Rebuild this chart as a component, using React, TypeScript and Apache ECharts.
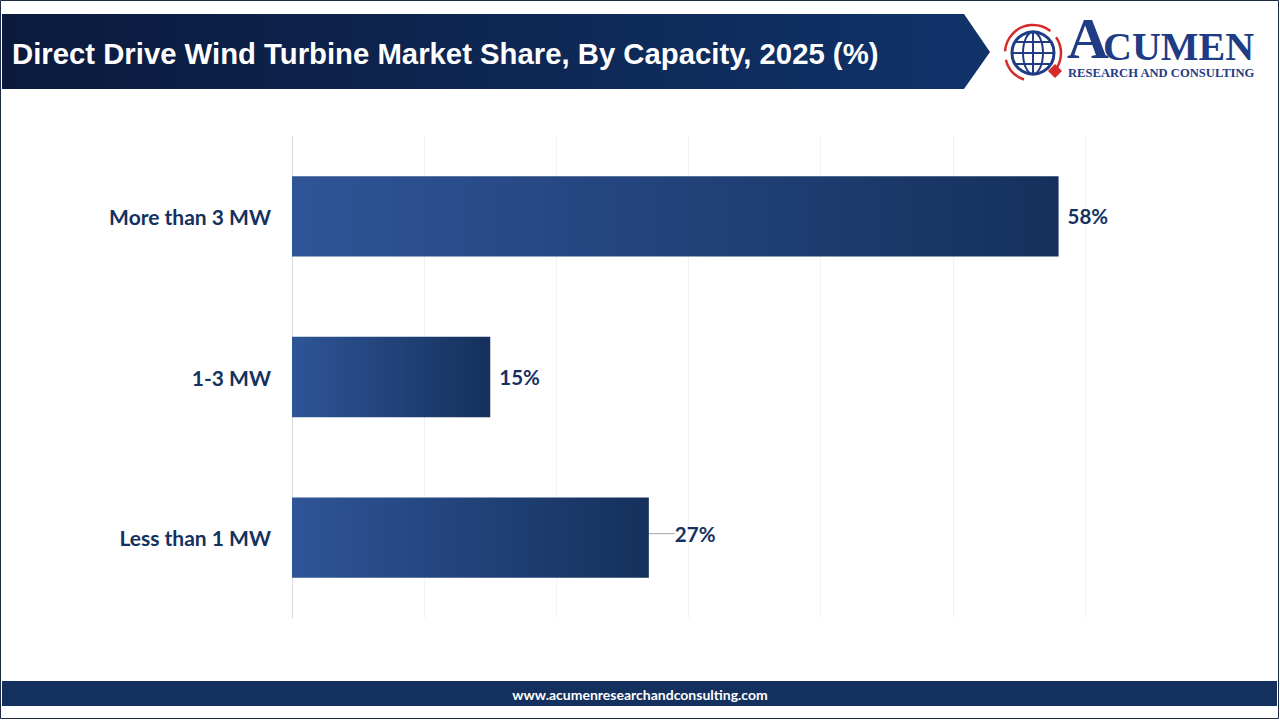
import React, { useEffect, useRef } from "react";
import * as echarts from "echarts";

const categories = ["Less than 1 MW", "1-3 MW", "More than 3 MW"];
const shares = [27, 15, 58];
const axisMax = 60;
const axisInterval = 10;

const titleText = "Direct Drive Wind Turbine Market Share, By Capacity, 2025 (%)";
const footerText = "www.acumenresearchandconsulting.com";

export default function App() {
  const ref = useRef<HTMLDivElement>(null);
  useEffect(() => {
    if (!ref.current) return;
    const chart = echarts.init(ref.current, null, { renderer: "svg" });
    const navy = "#14315f";
    const logoBlue = "#1f3c85";
    const red = "#d42a2a";
    const cx = 1033;
    const cy = 53;
    chart.setOption({
      animation: false,
      backgroundColor: "#ffffff",
      grid: { left: 292, right: 195, top: 136, bottom: 102, containLabel: false },
      xAxis: {
        type: "value",
        min: 0,
        max: axisMax,
        interval: axisInterval,
        axisLabel: { show: false },
        axisLine: { show: false },
        axisTick: { show: false },
        splitLine: { show: true, lineStyle: { color: "#f2f2f2", width: 1 } },
      },
      yAxis: {
        type: "category",
        data: categories,
        axisLine: { show: true, lineStyle: { color: "#d9d9d9", width: 1 } },
        axisTick: { show: false },
        axisLabel: {
          color: navy,
          fontFamily: "Lato",
          fontWeight: "bold",
          fontSize: 21,
          margin: 21,
        },
      },
      series: [
        {
          type: "bar",
          data: shares.map((v, i) =>
            i === 0
              ? { value: v, labelLine: { show: true, length2: 0, lineStyle: { color: "#a6a6a6", width: 1 } } }
              : { value: v, labelLine: { show: false } }
          ),
          barWidth: "50%",
          itemStyle: {
            color: new echarts.graphic.LinearGradient(0, 0, 1, 0, [
              { offset: 0, color: "#2f5597" },
              { offset: 1, color: "#15305c" },
            ]),
          },
          label: {
            show: true,
            position: "right",
            distance: 9,
            formatter: "{c}%",
            color: navy,
            fontFamily: "Lato",
            fontWeight: "bold",
            fontSize: 20.5,
          },
          labelLine: { show: false },
          labelLayout: (p: any) => (p.dataIndex === 0 ? { dx: 17, dy: -4 } : {}),
        },
      ],
      graphic: [
        {
          type: "rect",
          shape: { x: 0.5, y: 0.5, width: 1278, height: 718 },
          style: { fill: "none", stroke: "#1d2b44", lineWidth: 1 },
          z: 100,
        },
        {
          type: "polygon",
          shape: {
            points: [
              [2, 14],
              [964, 14],
              [990, 52],
              [964, 89],
              [2, 89],
            ],
          },
          style: {
            fill: new echarts.graphic.LinearGradient(0, 0, 1, 0, [
              { offset: 0, color: "#0b1a3c" },
              { offset: 1, color: "#10336a" },
            ]),
          },
        },
        {
          type: "text",
          x: 12,
          y: 53,
          style: {
            text: titleText,
            fill: "#ffffff",
            font: "bold 29.3px 'Liberation Sans', Arial, sans-serif",
            verticalAlign: "middle",
          },
        },
        // logo
        {
          type: "group",
          children: [
            { type: "arc", shape: { cx, cy, r: 28, startAngle: -2.4, endAngle: -0.9 }, style: { stroke: red, lineWidth: 2.5, fill: "none" } },
            { type: "arc", shape: { cx, cy, r: 28, startAngle: -0.6, endAngle: 0.6 }, style: { stroke: red, lineWidth: 2.5, fill: "none" } },
            { type: "arc", shape: { cx, cy, r: 28, startAngle: 1.9, endAngle: 2.9 }, style: { stroke: red, lineWidth: 2.5, fill: "none" } },
            { type: "arc", shape: { cx, cy, r: 28, startAngle: 3.2, endAngle: 3.9 }, style: { stroke: red, lineWidth: 2.5, fill: "none" } },
            { type: "circle", shape: { cx, cy, r: 21 }, style: { fill: "#ffffff", stroke: logoBlue, lineWidth: 3 } },
            { type: "ellipse", shape: { cx, cy, rx: 10, ry: 21 }, style: { fill: "none", stroke: logoBlue, lineWidth: 2 } },
            { type: "line", shape: { x1: cx, y1: cy - 21, x2: cx, y2: cy + 21 }, style: { stroke: logoBlue, lineWidth: 2 } },
            { type: "line", shape: { x1: cx - 21, y1: cy, x2: cx + 21, y2: cy }, style: { stroke: logoBlue, lineWidth: 2 } },
            { type: "line", shape: { x1: cx - 17, y1: cy - 11, x2: cx + 17, y2: cy - 11 }, style: { stroke: logoBlue, lineWidth: 2 } },
            { type: "line", shape: { x1: cx - 17, y1: cy + 11, x2: cx + 17, y2: cy + 11 }, style: { stroke: logoBlue, lineWidth: 2 } },
            { type: "polygon", shape: { points: [[1055, 64], [1062, 71], [1055, 78], [1048, 71]] }, style: { fill: red } },
            {
              type: "text",
              x: 1067,
              y: 67,
              style: { text: "A", fill: logoBlue, font: "bold 58px 'Liberation Serif', serif", verticalAlign: "bottom" },
            },
            {
              type: "text",
              x: 1103,
              y: 66,
              style: { text: "CUMEN", fill: logoBlue, font: "bold 40px 'Liberation Serif', serif", verticalAlign: "bottom" },
            },
            {
              type: "text",
              x: 1068,
              y: 73,
              style: { text: "RESEARCH AND CONSULTING", fill: logoBlue, font: "bold 12.6px 'Liberation Serif', serif", verticalAlign: "middle" },
            },
          ],
        },
        {
          type: "rect",
          shape: { x: 2, y: 681, width: 1275, height: 25 },
          style: { fill: "#13305e" },
        },
        {
          type: "text",
          x: 640,
          y: 694,
          style: {
            text: footerText,
            fill: "#ffffff",
            font: "bold 14px Lato, sans-serif",
            align: "center",
            verticalAlign: "middle",
          },
        },
      ],
    });
    return () => chart.dispose();
  }, []);
  return (
    <div
      ref={ref}
      style={{ position: "fixed", left: 0, top: 0, width: 1280, height: 720 }}
    />
  );
}
